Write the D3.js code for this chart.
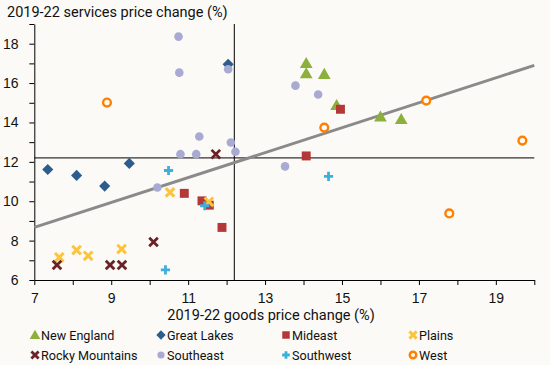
<!DOCTYPE html>
<html>
<head>
<meta charset="utf-8">
<script src="https://cdn.jsdelivr.net/npm/d3@7"></script>
<style>
  body { margin: 0; background: #fbfaf6; }
  svg { display: block; font-family: Roboto, "Open Sans", sans-serif; }
</style>
</head>
<body>
<div id="chart"></div>
<script>
// regions in legend order
var regions = ["New England", "Great Lakes", "Mideast", "Plains",
    "Rocky Mountains", "Southeast", "Southwest", "West"];

// [goods, services] per region
var newEngland = [[14.07, 17.0], [14.07, 16.48], [14.54, 16.45], [14.86, 14.87], [16.0, 14.28], [16.54, 14.16]];
var greatLakes = [[12.04, 16.95], [7.35, 11.61], [8.1, 11.31], [8.83, 10.77], [9.47, 11.92]];
var mideast = [[14.96, 14.67], [14.07, 12.3], [10.9, 10.4], [11.36, 10.02], [11.55, 9.8], [11.88, 8.67]];
var plains = [[10.53, 10.45], [11.54, 9.97], [7.65, 7.15], [8.1, 7.52], [8.4, 7.23], [9.27, 7.57]];
var rockyMountains = [[11.72, 12.39], [7.59, 6.76], [8.97, 6.76], [9.28, 6.76], [10.1, 7.93]];
var southeast = [[10.75, 18.36], [10.77, 16.53], [12.04, 16.7], [11.29, 13.29], [12.11, 12.98], [12.23, 12.51],
    [10.8, 12.39], [11.21, 12.39], [10.2, 10.7], [13.79, 15.87], [14.38, 15.42], [13.52, 11.77]];
var southwest = [[10.49, 11.56], [11.43, 9.77], [10.41, 6.51], [14.65, 11.26]];
var west = [[8.89, 15.01], [14.54, 13.74], [17.19, 15.11], [19.69, 13.08], [17.79, 9.38]];

var seriesData = [newEngland, greatLakes, mideast, plains, rockyMountains, southeast, southwest, west];

var medianGoods = 12.2;
var medianServices = 12.2;
var trendLine = [[7, 8.67], [20, 16.9]];

var xTicks = [7, 9, 11, 13, 15, 17, 19];
var yTicks = [6, 8, 10, 12, 14, 16, 18];

var colors = ["#8cb03c", "#2d5d8c", "#b43838", "#fcc43c", "#6b2226", "#a9aad3", "#3cb0dc", "#ff8000"];

var width = 550, height = 365;
var plotLeft = 34.3, plotRight = 534.3, plotTop = 24, plotBottom = 280;

var svg = d3.select("#chart").append("svg")
    .attr("width", width)
    .attr("height", height);

svg.append("rect").attr("width", width).attr("height", height).attr("fill", "#fbfaf6");

var x = d3.scaleLinear().domain([7, 20]).range([plotLeft, plotRight]);
var y = d3.scaleLinear().domain([6, 19]).range([plotBottom, plotTop]);

// axes
var xAxis = svg.append("g")
    .attr("transform", "translate(0," + plotBottom + ")")
    .call(d3.axisBottom(x).tickValues(d3.range(7, 21)).tickSize(5).tickSizeOuter(0)
        .tickFormat(function (d) { return xTicks.indexOf(d) >= 0 ? d : ""; }));
xAxis.selectAll("text").attr("dy", "1.05em");

var yAxis = svg.append("g")
    .attr("transform", "translate(" + plotLeft + ",0)")
    .call(d3.axisLeft(y).tickValues(d3.range(6, 20)).tickSize(5).tickSizeOuter(0)
        .tickFormat(function (d) { return yTicks.indexOf(d) >= 0 ? d : ""; }));
yAxis.selectAll("text").attr("dx", "-0.55em");

[xAxis, yAxis].forEach(function (a) {
    a.selectAll("text").style("font-size", "14px").attr("fill", "#111");
    a.selectAll("line, path").attr("stroke", "#000");
});

// median lines
svg.append("line")
    .attr("x1", x(7)).attr("x2", x(20))
    .attr("y1", y(medianServices)).attr("y2", y(medianServices))
    .attr("stroke", "#000").attr("stroke-width", 1);
svg.append("line")
    .attr("x1", x(medianGoods)).attr("x2", x(medianGoods))
    .attr("y1", y(19)).attr("y2", y(6))
    .attr("stroke", "#000").attr("stroke-width", 1);

// trend
svg.append("path")
    .attr("d", d3.line().x(function (d) { return x(d[0]); }).y(function (d) { return y(d[1]); })(trendLine))
    .attr("stroke", "#8a8a8a").attr("stroke-width", 3).attr("fill", "none");

function drawMarker(g, i, cx, cy, s) {
    var c = colors[i];
    s = s || 1;
    if (i == 0) {
        g.append("path").attr("d", d3.symbol().type(d3.symbolTriangle).size(70 * s)())
            .attr("transform", "translate(" + cx + "," + (cy + 1) + ")").attr("fill", c);
    } else if (i == 1) {
        g.append("path").attr("d", d3.symbol().type(d3.symbolSquare).size(62 * s)())
            .attr("transform", "translate(" + cx + "," + cy + ") rotate(45)").attr("fill", c);
    } else if (i == 2) {
        g.append("path").attr("d", d3.symbol().type(d3.symbolSquare).size(80 * s)())
            .attr("transform", "translate(" + cx + "," + cy + ")").attr("fill", c);
    } else if (i == 3 || i == 4) {
        var r = 4.3 * Math.sqrt(s);
        g.append("path")
            .attr("d", "M" + (-r) + "," + (-r) + "L" + r + "," + r + "M" + (-r) + "," + r + "L" + r + "," + (-r))
            .attr("transform", "translate(" + cx + "," + cy + ")")
            .attr("stroke", c).attr("stroke-width", i == 3 ? 3 : 2.8).attr("fill", "none");
    } else if (i == 5) {
        g.append("circle").attr("cx", cx).attr("cy", cy).attr("r", 4.3 * Math.sqrt(s)).attr("fill", c);
    } else if (i == 6) {
        var p = 4.6 * Math.sqrt(s);
        g.append("path")
            .attr("d", "M" + (-p) + ",0L" + p + ",0M0," + (-p) + "L0," + p)
            .attr("transform", "translate(" + cx + "," + cy + ")")
            .attr("stroke", c).attr("stroke-width", 2.8).attr("fill", "none");
    } else {
        g.append("circle").attr("cx", cx).attr("cy", cy).attr("r", 3.9 * Math.sqrt(s))
            .attr("fill", "#fbfaf6").attr("stroke", c).attr("stroke-width", 2.4);
    }
}

var pts = svg.append("g");
seriesData.forEach(function (series, i) {
    series.forEach(function (d) {
        drawMarker(pts, i, x(d[0]), y(d[1]));
    });
});

// titles
svg.append("text").attr("x", 7).attr("y", 17)
    .style("font-size", "14.5px").attr("fill", "#111")
    .text("2019-22 services price change (%)");
svg.append("text").attr("x", 271).attr("y", 320).attr("text-anchor", "middle")
    .style("font-size", "14.5px").attr("fill", "#111")
    .text("2019-22 goods price change (%)");

// legend
var legX = [35, 161, 286, 413];
var legY = [335, 355];
var leg = svg.append("g");
regions.forEach(function (name, i) {
    var lx = legX[i % 4], ly = legY[Math.floor(i / 4)];
    drawMarker(leg, i, lx, ly, 0.7);
    leg.append("text").attr("x", lx + 6).attr("y", ly + 4.5)
        .style("font-size", "12.6px").attr("fill", "#111")
        .text(name);
});
</script>
</body>
</html>
